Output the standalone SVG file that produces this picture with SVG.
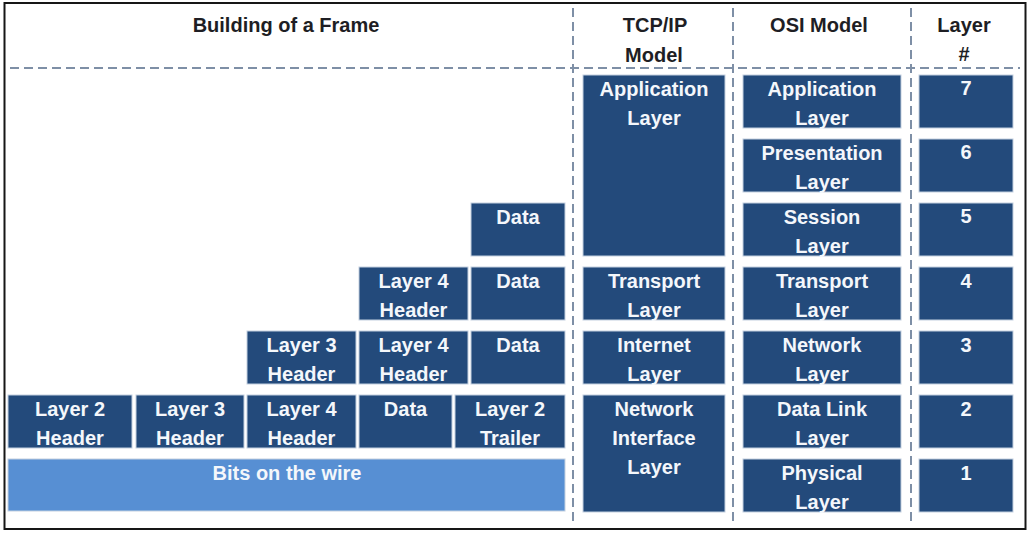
<svg xmlns="http://www.w3.org/2000/svg" width="1030" height="536" viewBox="0 0 1030 536">
  <style>
    .bx { fill: #234A7B; stroke: #C3D0E0; stroke-width: 1; }
    .wire { fill: #578FD3; stroke: #C3D0E0; stroke-width: 1; }
    .t { font-family: "Liberation Sans", Arial, sans-serif; font-weight: bold; font-size: 20px; fill: #F4F7FB; text-anchor: middle; }
    .h { font-family: "Liberation Sans", Arial, sans-serif; font-weight: bold; font-size: 20px; fill: #1E1E24; text-anchor: middle; }
    .dash { stroke: #7E8FA6; stroke-width: 2; stroke-dasharray: 9 5; fill: none; }
  </style>
  <rect x="0" y="0" width="1030" height="536" fill="#FFFFFF"/>
  <rect x="4.5" y="3" width="1021" height="526" fill="#FFFFFF" stroke="#161616" stroke-width="2"/>

  <g id="connectors">
    <line class="dash" x1="10" y1="68" x2="1020" y2="68"/>
    <line class="dash" x1="573" y1="8" x2="573" y2="524"/>
    <line class="dash" x1="733" y1="8" x2="733" y2="524"/>
    <line class="dash" x1="911" y1="8" x2="911" y2="524"/>
  </g>

  <g id="headers">
    <text class="h" x="286" y="32">Building of a Frame</text>
    <text class="h" x="655" y="32">TCP/IP</text>
    <text class="h" x="654" y="62">Model</text>
    <text class="h" x="819" y="32">OSI Model</text>
    <text class="h" x="964" y="32">Layer</text>
    <text class="h" x="964" y="61">#</text>
  </g>

  <!-- Building of a frame -->
  <g id="r5-data"><rect class="bx" x="471" y="203" width="94" height="53"/><text class="t" x="518" y="224">Data</text></g>

  <g id="r4-l4h"><rect class="bx" x="359" y="267" width="109" height="53"/><text class="t" x="413.5" y="288">Layer 4</text><text class="t" x="413.5" y="317">Header</text></g>
  <g id="r4-data"><rect class="bx" x="471" y="267" width="94" height="53"/><text class="t" x="518" y="288">Data</text></g>

  <g id="r3-l3h"><rect class="bx" x="247" y="331" width="109" height="53"/><text class="t" x="301.5" y="352">Layer 3</text><text class="t" x="301.5" y="381">Header</text></g>
  <g id="r3-l4h"><rect class="bx" x="359" y="331" width="109" height="53"/><text class="t" x="413.5" y="352">Layer 4</text><text class="t" x="413.5" y="381">Header</text></g>
  <g id="r3-data"><rect class="bx" x="471" y="331" width="94" height="53"/><text class="t" x="518" y="352">Data</text></g>

  <g id="r2-l2h"><rect class="bx" x="8" y="395" width="124" height="53"/><text class="t" x="70" y="416">Layer 2</text><text class="t" x="70" y="445">Header</text></g>
  <g id="r2-l3h"><rect class="bx" x="136" y="395" width="108" height="53"/><text class="t" x="190" y="416">Layer 3</text><text class="t" x="190" y="445">Header</text></g>
  <g id="r2-l4h"><rect class="bx" x="247" y="395" width="109" height="53"/><text class="t" x="301.5" y="416">Layer 4</text><text class="t" x="301.5" y="445">Header</text></g>
  <g id="r2-data"><rect class="bx" x="359" y="395" width="93" height="53"/><text class="t" x="405.5" y="416">Data</text></g>
  <g id="r2-l2t"><rect class="bx" x="455" y="395" width="110" height="53"/><text class="t" x="510" y="416">Layer 2</text><text class="t" x="510" y="445">Trailer</text></g>

  <g id="bits"><rect class="wire" x="8" y="459" width="557" height="52"/><text class="t" x="287" y="480">Bits on the wire</text></g>

  <!-- TCP/IP model -->
  <g id="tcp-app"><rect class="bx" x="583" y="75" width="142" height="181"/><text class="t" x="654" y="96">Application</text><text class="t" x="654" y="125">Layer</text></g>
  <g id="tcp-transport"><rect class="bx" x="583" y="267" width="142" height="53"/><text class="t" x="654" y="288">Transport</text><text class="t" x="654" y="317">Layer</text></g>
  <g id="tcp-internet"><rect class="bx" x="583" y="331" width="142" height="53"/><text class="t" x="654" y="352">Internet</text><text class="t" x="654" y="381">Layer</text></g>
  <g id="tcp-netif"><rect class="bx" x="583" y="395" width="142" height="117"/><text class="t" x="654" y="416">Network</text><text class="t" x="654" y="445">Interface</text><text class="t" x="654" y="474">Layer</text></g>

  <!-- OSI model -->
  <g id="osi-7"><rect class="bx" x="743" y="75" width="158" height="53"/><text class="t" x="822" y="96">Application</text><text class="t" x="822" y="125">Layer</text></g>
  <g id="osi-6"><rect class="bx" x="743" y="139" width="158" height="53"/><text class="t" x="822" y="160">Presentation</text><text class="t" x="822" y="189">Layer</text></g>
  <g id="osi-5"><rect class="bx" x="743" y="203" width="158" height="53"/><text class="t" x="822" y="224">Session</text><text class="t" x="822" y="253">Layer</text></g>
  <g id="osi-4"><rect class="bx" x="743" y="267" width="158" height="53"/><text class="t" x="822" y="288">Transport</text><text class="t" x="822" y="317">Layer</text></g>
  <g id="osi-3"><rect class="bx" x="743" y="331" width="158" height="53"/><text class="t" x="822" y="352">Network</text><text class="t" x="822" y="381">Layer</text></g>
  <g id="osi-2"><rect class="bx" x="743" y="395" width="158" height="53"/><text class="t" x="822" y="416">Data Link</text><text class="t" x="822" y="445">Layer</text></g>
  <g id="osi-1"><rect class="bx" x="743" y="459" width="158" height="53"/><text class="t" x="822" y="480">Physical</text><text class="t" x="822" y="509">Layer</text></g>

  <!-- Layer numbers -->
  <g id="num-7"><rect class="bx" x="919" y="75" width="94" height="53"/><text class="t" x="966" y="95">7</text></g>
  <g id="num-6"><rect class="bx" x="919" y="139" width="94" height="53"/><text class="t" x="966" y="159">6</text></g>
  <g id="num-5"><rect class="bx" x="919" y="203" width="94" height="53"/><text class="t" x="966" y="223">5</text></g>
  <g id="num-4"><rect class="bx" x="919" y="267" width="94" height="53"/><text class="t" x="966" y="288">4</text></g>
  <g id="num-3"><rect class="bx" x="919" y="331" width="94" height="53"/><text class="t" x="966" y="352">3</text></g>
  <g id="num-2"><rect class="bx" x="919" y="395" width="94" height="53"/><text class="t" x="966" y="416">2</text></g>
  <g id="num-1"><rect class="bx" x="919" y="459" width="94" height="53"/><text class="t" x="966" y="480">1</text></g>
</svg>
